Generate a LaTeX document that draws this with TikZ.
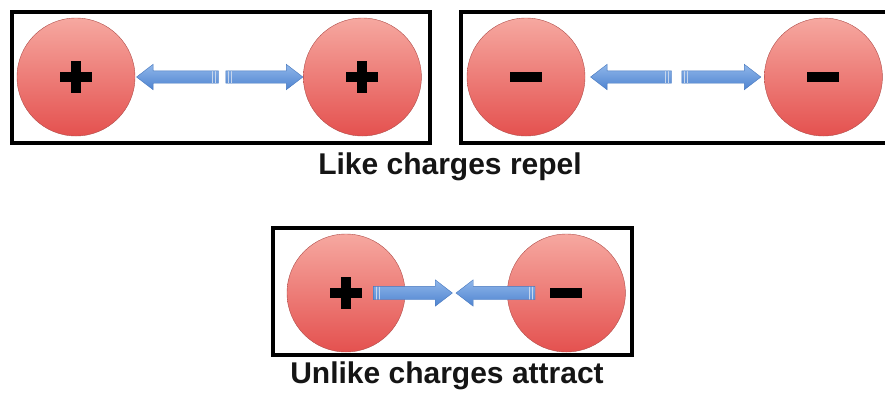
\documentclass[tikz,border=0pt]{standalone}
\usepackage{fontspec}
\setmainfont{Liberation Sans}
\usepackage{tikz}
\usetikzlibrary{shapes.arrows}
\usetikzlibrary{positioning}

\definecolor{chargetop}{HTML}{F6A8A0}
\definecolor{chargebot}{HTML}{E4514F}
\definecolor{chargeedge}{HTML}{B04E4A}
\definecolor{arrowtop}{HTML}{8FB6EA}
\definecolor{arrowbot}{HTML}{4F84D0}
\definecolor{arrowedge}{HTML}{4677BE}
\definecolor{captioncol}{HTML}{151515}

\tikzstyle{charge} = [circle,draw=chargeedge,thin,inner sep=0pt,minimum size=118pt,top color=chargetop,bottom color=chargebot]
\tikzstyle{minus} = [charge,path picture={
  \fill[black] ([xshift=-16pt,yshift=-5pt]path picture bounding box.center) rectangle ([xshift=16pt,yshift=5pt]path picture bounding box.center);}]
\tikzstyle{plus} = [charge,path picture={
  \fill[black] ([xshift=-16pt,yshift=-5pt]path picture bounding box.center) rectangle ([xshift=16pt,yshift=5pt]path picture bounding box.center);
  \fill[black] ([xshift=-5pt,yshift=-16pt]path picture bounding box.center) rectangle ([xshift=5pt,yshift=16pt]path picture bounding box.center);}]
\tikzstyle{push} = [single arrow,draw=arrowedge,thin,top color=arrowtop,bottom color=arrowbot,inner sep=0pt,inner ysep=6pt,single arrow head extend=6.5pt,single arrow tip angle=75]
\tikzstyle{pull} = [push,inner ysep=6.5pt]
% light stripes at the tail of each arrow
\tikzstyle{tailwest} = [path picture={\foreach \s in {3,6}
  \draw[white!70!arrowedge,line width=0.8pt] ([xshift=\s pt]path picture bounding box.south west) -- ([xshift=\s pt]path picture bounding box.north west);}]
\tikzstyle{taileast} = [path picture={\foreach \s in {3,6}
  \draw[white!70!arrowedge,line width=0.8pt] ([xshift=-\s pt]path picture bounding box.south east) -- ([xshift=-\s pt]path picture bounding box.north east);}]
\tikzstyle{frame} = [draw=black,line width=3.5pt]
\tikzstyle{caption} = [anchor=base,text=captioncol,font=\fontsize{30}{36}\selectfont\bfseries]

\begin{document}
\begin{tikzpicture}[x=1pt,y=-1pt]
\useasboundingbox (0,0) rectangle (885,392);

% like charges
\draw[frame] (12,12) rectangle (430,143);
\draw[frame] (461,12) rectangle (900,143);

\node[plus] (C1) at (76,77) {};
\node[plus] (C2) [right=168pt of C1] {};
\node[minus] (C3) at (526,77) {};
\node[minus] (C4) [right=179pt of C3] {};

\node[push,taileast,shape border rotate=180,minimum height=82pt] (A1) [right=1pt of C1] {};
\node[push,tailwest,minimum height=77pt] (A2) [left=0pt of C2] {};
\node[push,taileast,shape border rotate=180,minimum height=81pt] (A3) [right=5pt of C3] {};
\node[push,tailwest,minimum height=79pt] (A4) [left=3pt of C4] {};

\node[caption] (T1) at (450,174) {Like charges repel};

% unlike charges
\draw[frame] (273,228) rectangle (632,355);

\node[plus] (C5) at (346,293) {};
\node[minus] (C6) [right=102pt of C5] {};

\node[pull,tailwest,minimum height=79pt] (A5) [right=-32pt of C5] {};
\node[pull,taileast,shape border rotate=180,minimum height=79pt] (A6) [left=-28pt of C6] {};

\node[caption] (T2) at (447,383) {Unlike charges attract};

\end{tikzpicture}
\end{document}
